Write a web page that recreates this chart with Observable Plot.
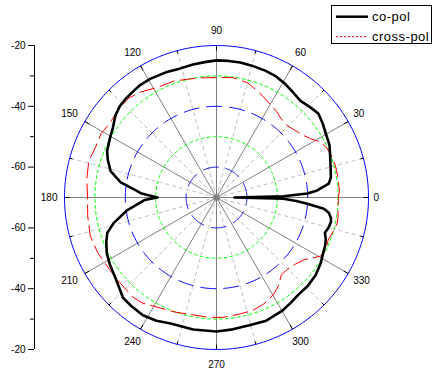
<!DOCTYPE html>
<html>
<head>
<meta charset="utf-8">
<script src="https://cdn.jsdelivr.net/npm/d3@7"></script>
<script src="https://cdn.jsdelivr.net/npm/@observablehq/plot@0.6"></script>
<style>
  body { margin: 0; background: #fff; }
  #wrap { position: relative; width: 439px; height: 375px; }
  #legend { position: absolute; left: 331px; top: 5px; }
</style>
</head>
<body>
<div id="wrap"></div>
<script>
// ---------- data ----------
const seriesNames = ["co-pol", "cross-pol"];
const angleLabels = [0, 30, 60, 90, 120, 150, 180, 210, 240, 270, 300, 330];
const radialMajor = [-20, -40, -60];
const radialMinor = [-30, -50];
const rings = [-20, -30, -40, -50, -60];
const rMin = -70, rMax = -20;

const copolAngle = [0, 1, 2.5, 4, 7, 10, 14, 20, 25, 30, 35, 39.5, 44, 49, 54, 59, 64, 69, 75, 80, 85, 90,
  95, 100, 106, 112, 119, 124, 128, 133, 137, 141, 146, 151, 157, 161, 166, 171, 175, 177, 180,
  182, 184, 188, 194, 198, 202, 207, 212, 218, 222, 227, 232, 238, 244, 250, 260, 270, 277, 284,
  292, 300, 305, 310, 316, 322, 328, 331, 336, 339, 342, 345, 348, 350, 352.4, 354, 356, 357.5, 359, 360];
const copolDb = [-64.1, -48.0, -40.1, -36.8, -32.8, -31.8, -31.3, -30.2, -29.0, -28.4, -27.4, -26.6, -27.2, -27.9, -27.2, -26.3, -25.6, -25.3, -25.1, -24.9, -24.9, -24.9,
  -25.3, -25.6, -25.9, -25.6, -25.3, -25.3, -25.6, -25.9, -26.3, -27.2, -28.9, -29.9, -30.9, -32.2, -34.1, -38.1, -43.4, -45.3, -50.6,
  -46.3, -44.7, -40.4, -35.1, -32.2, -30.9, -29.5, -28.6, -27.6, -26.6, -24.9, -24.6, -24.3, -24.9, -25.9, -25.9, -25.9, -26.3, -26.6,
  -26.3, -26.9, -27.6, -28.2, -28.2, -28.6, -29.5, -30.2, -30.9, -31.5, -32.5, -31.8, -31.5, -31.8, -32.8, -34.5, -40.1, -43.7, -48.0, -64.1];

const crossAngle = [0, 3, 9, 15, 21, 24, 28, 32, 36, 41, 45, 51, 55, 60, 66, 70, 75, 82, 88, 94, 99, 110, 118,
  126, 132, 140, 146, 151, 157, 164, 172, 180, 188, 197, 205, 214, 220, 230, 235, 243, 250, 256, 266,
  273, 281, 288, 294, 298, 301, 305, 310, 315, 320, 325, 328, 331, 336, 339, 344, 348, 351, 355, 360];
const crossDb = [-29.9, -29.5, -29.5, -29.5, -29.9, -30.2, -31.2, -33.5, -35.0, -36.1, -36.8, -36.4, -35.5, -34.6, -33.2, -32.2, -30.9, -30.2, -30.5, -30.5, -30.2, -29.2, -28.9,
  -27.2, -26.3, -26.9, -27.2, -26.6, -26.9, -26.3, -26.9, -27.6, -27.2, -26.6, -26.9, -27.6, -27.6, -27.2, -27.6, -29.2, -29.9, -30.5, -30.5,
  -30.5, -30.9, -31.0, -31.7, -32.5, -33.2, -34.5, -36.8, -36.8, -36.0, -34.5, -32.5, -30.5, -30.2, -30.7, -30.0, -29.4, -29.5, -29.9, -29.9];

// ---------- geometry helpers ----------
const R = rMax - rMin;             // radial extent in data units
const W = 439, H = 375;
const mL = 34, mR = 71, mT = 45, mB = 26;
const k = (H - mT - mB) / (2 * R);  // px per unit
const xMin = R - (W - mL - mR) / k;
const rad = d => d * Math.PI / 180;
const toXY = (deg, db) => ({ x: (db - rMin) * Math.cos(rad(deg)), y: (db - rMin) * Math.sin(rad(deg)) });

const copol = copolAngle.map((a, i) => toXY(a, copolDb[i]));
const cross = crossAngle.map((a, i) => toXY(a, crossDb[i]));

const ringPts = rings.flatMap((d, j) => d3.range(0, 361, 1).map(a => ({ ring: d, idx: j, ...toXY(a, d) })));
const minorSpokes = angleLabels.map(a => a + 15);

const labelData = angleLabels.map(a => {
  const c = Math.cos(rad(a)), s = Math.sin(rad(a));
  const anchor = Math.abs(c) > 0.7 ? (c > 0 ? "start" : "end") : "middle";
  const dxp = anchor === "start" ? 5 : anchor === "end" ? -7 : (Math.abs(c) < 0.01 ? 0 : 8 * Math.sign(c));
  const dyp = -s * 15;
  return { a, anchor, x: R * c + dxp / k, y: R * s - dyp / k };
});

const majorY = radialMajor.flatMap(d => [d - rMin, -(d - rMin)]);
const minorY = radialMinor.flatMap(d => [d - rMin, -(d - rMin)]);

const plot = Plot.plot({
  width: W, height: H,
  marginLeft: mL, marginRight: mR, marginTop: mT, marginBottom: mB,
  x: { domain: [xMin, R], axis: null, label: null },
  y: { domain: [-R, R], label: null },
  style: { fontFamily: "'Liberation Sans', Arial, sans-serif", fontSize: "10px", background: "#fff", color: "#000", overflow: "visible" },
  marks: [
    // spokes
    Plot.link(minorSpokes, { x1: 0, y1: 0, x2: a => R * Math.cos(rad(a)), y2: a => R * Math.sin(rad(a)), stroke: "#c0c0c0", strokeWidth: 1, strokeDasharray: "4,3" }),
    Plot.link(angleLabels, { x1: 0, y1: 0, x2: a => R * Math.cos(rad(a)), y2: a => R * Math.sin(rad(a)), stroke: "#808080", strokeWidth: 1 }),
    // rings
    Plot.line(ringPts.filter(p => p.idx > 0 && p.idx % 2 === 1), { x: "x", y: "y", z: "ring", stroke: "#00ff00", strokeWidth: 1, strokeDasharray: "3,3" }),
    Plot.line(ringPts.filter(p => p.idx > 0 && p.idx % 2 === 0), { x: "x", y: "y", z: "ring", stroke: "#0000ff", strokeWidth: 1, strokeDasharray: "15,8" }),
    Plot.line(ringPts.filter(p => p.idx === 0), { x: "x", y: "y", stroke: "#0000ff", strokeWidth: 1 }),
    // angular ticks on outer ring
    Plot.link(angleLabels, { x1: a => (R - 5 / k) * Math.cos(rad(a)), y1: a => (R - 5 / k) * Math.sin(rad(a)), x2: a => R * Math.cos(rad(a)), y2: a => R * Math.sin(rad(a)), stroke: "#000" }),
    Plot.link(minorSpokes, { x1: a => (R - 3 / k) * Math.cos(rad(a)), y1: a => (R - 3 / k) * Math.sin(rad(a)), x2: a => R * Math.cos(rad(a)), y2: a => R * Math.sin(rad(a)), stroke: "#000" }),
    // center dot
    Plot.dot([0], { x: 0, y: 0, r: 3, fill: "#808080", stroke: null }),
    // series
    Plot.line(cross, { x: "x", y: "y", stroke: "#ff0000", strokeWidth: 1, strokeDasharray: "15,6" }),
    Plot.line(copol, { x: "x", y: "y", stroke: "#000", strokeWidth: 2.6, strokeLinejoin: "round" }),
    // angle labels
    Plot.text(labelData.filter(d => d.anchor === "start"), { x: "x", y: "y", text: d => String(d.a), textAnchor: "start", fill: "#000", fontSize: 10 }),
    Plot.text(labelData.filter(d => d.anchor === "end"), { x: "x", y: "y", text: d => String(d.a), textAnchor: "end", fill: "#000", fontSize: 10 }),
    Plot.text(labelData.filter(d => d.anchor === "middle"), { x: "x", y: "y", text: d => String(d.a), textAnchor: "middle", fill: "#000", fontSize: 10 }),
    // radial axis at left
    Plot.ruleX([xMin], { y1: -R, y2: R, stroke: "#000" }),
    Plot.axisY({ ticks: majorY, tickSize: 6, tickPadding: 3, tickFormat: y => String(rMin + Math.abs(y)), fontSize: 10, stroke: "#000", fill: "#000", label: null }),
    Plot.axisY({ ticks: minorY, tickSize: 4, tickFormat: () => "", stroke: "#000", label: null })
  ]
});

const wrap = document.getElementById("wrap");
wrap.appendChild(plot);

// legend
const lg = d3.select(wrap).append("svg").attr("id", "legend").attr("width", 102).attr("height", 40)
  .style("font-family", "'Liberation Sans', Arial, sans-serif");
lg.append("rect").attr("x", 0.5).attr("y", 0.5).attr("width", 100).attr("height", 38).attr("fill", "#fff").attr("stroke", "#000");
const legStyles = [{ stroke: "#000", w: 2.5, dash: null }, { stroke: "#ff0000", w: 1, dash: "2,2" }];
seriesNames.forEach((name, i) => {
  const yy = 11.7 + i * 20;
  lg.append("line").attr("x1", 5).attr("x2", 37).attr("y1", yy).attr("y2", yy)
    .attr("stroke", legStyles[i].stroke).attr("stroke-width", legStyles[i].w)
    .attr("stroke-dasharray", legStyles[i].dash);
  lg.append("text").attr("x", 41).attr("y", yy + 4.5).attr("font-size", 13).attr("letter-spacing", 0.5).attr("fill", "#000").text(name);
});
</script>
</body>
</html>
